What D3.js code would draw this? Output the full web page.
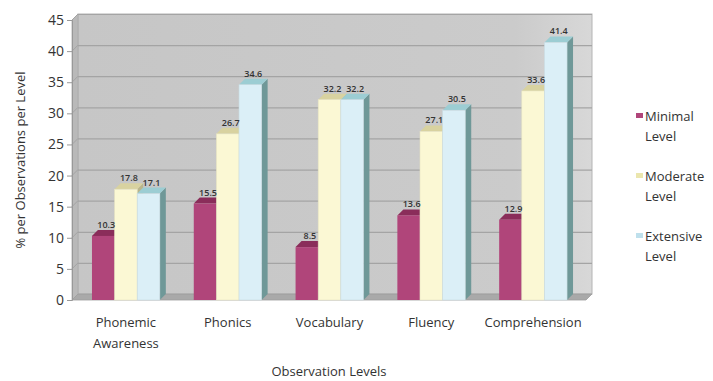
<!DOCTYPE html>
<html>
<head>
<meta charset="utf-8">
<script src="https://cdn.jsdelivr.net/npm/d3@7"></script>
<style>
  html, body { margin: 0; padding: 0; background: #fff; }
  svg { display: block; }
  text { font-family: "Open Sans", "Noto Sans", sans-serif; fill: #333; }
</style>
</head>
<body>
<svg id="chart" width="713" height="381"></svg>
<script>
// Reading-instruction observations by level
const categories = ["Phonemic Awareness", "Phonics", "Vocabulary", "Fluency", "Comprehension"];
const categoryLines = [["Phonemic", "Awareness"], ["Phonics"], ["Vocabulary"], ["Fluency"], ["Comprehension"]];
const seriesNames = ["Minimal Level", "Moderate Level", "Extensive Level"];
const minimal   = [10.3, 15.5, 8.5, 13.6, 12.9];
const moderate  = [17.8, 26.7, 32.2, 27.1, 33.6];
const extensive = [17.1, 34.6, 32.2, 30.5, 41.4];
const yTicks = [0, 5, 10, 15, 20, 25, 30, 35, 40, 45];
const yTitle = "% per Observations per Level";
const xTitle = "Observation Levels";

const seriesValues = [minimal, moderate, extensive];
const frontColors = ["#b0457a", "#fbf8d4", "#dbeff7"];
const topColors   = ["#8a2d5a", "#d8d2a0", "#9ccdd3"];
const sideColors  = ["#7a2a50", "#b9b58a", "#6f9898"];

const svg = d3.select("#chart");

// Front plane geometry and the depth offset of the 3D box
const plotLeft = 72, plotRight = 586, plotBase = 300, plotTop = 20;
const dx = 6, dy = -6;

const y = d3.scaleLinear().domain([0, 45]).range([plotBase, plotTop]);
const x0 = d3.scaleBand().domain(categories).range([75, 584])
  .paddingInner(1 / 3).paddingOuter(1 / 6);
const x1 = d3.scaleBand().domain(d3.range(3)).range([0, x0.bandwidth()]);

const defs = svg.append("defs");
const wallGrad = defs.append("linearGradient").attr("id", "wall")
  .attr("x1", 0).attr("y1", 0).attr("x2", 1).attr("y2", 0);
wallGrad.append("stop").attr("offset", 0).attr("stop-color", "#c6c6c6");
wallGrad.append("stop").attr("offset", 0.85).attr("stop-color", "#cbcbcb");
wallGrad.append("stop").attr("offset", 1).attr("stop-color", "#d8d8d8");

// Back wall
svg.append("rect")
  .attr("x", plotLeft + dx).attr("y", plotTop + dy)
  .attr("width", plotRight - plotLeft).attr("height", plotBase - plotTop)
  .attr("fill", "url(#wall)").attr("stroke", "#b4b4b4").attr("stroke-width", 1);

// Left side wall
svg.append("path")
  .attr("d", `M${plotLeft},${plotTop}L${plotLeft + dx},${plotTop + dy}L${plotLeft + dx},${plotBase + dy}L${plotLeft},${plotBase}Z`)
  .attr("fill", "#b9b9b9").attr("stroke", "#a9a9a9").attr("stroke-width", 0.8);

// Floor
svg.append("path")
  .attr("d", `M${plotLeft},${plotBase}L${plotLeft + dx},${plotBase + dy}L${plotRight + dx},${plotBase + dy}L${plotRight},${plotBase}Z`)
  .attr("fill", "#a9a9a9").attr("stroke", "#9d9d9d").attr("stroke-width", 0.8);

// Gridlines on the back wall and the side wall
const grid = svg.append("g");
yTicks.filter(t => t > 0).forEach(t => {
  const yy = y(t);
  grid.append("line")
    .attr("x1", plotLeft + dx).attr("x2", plotRight + dx)
    .attr("y1", yy + dy + 0.5).attr("y2", yy + dy + 0.5)
    .attr("stroke", "#a4a4a4").attr("stroke-width", 1.2);
  grid.append("line")
    .attr("x1", plotLeft).attr("x2", plotLeft + dx)
    .attr("y1", yy).attr("y2", yy + dy)
    .attr("stroke", "#a4a4a4").attr("stroke-width", 1);
});

// Y axis on the front-left edge
const yAxis = d3.axisLeft(y).tickValues(yTicks).tickSize(5).tickPadding(3).tickFormat(d3.format("d"));
const yg = svg.append("g").attr("transform", `translate(${plotLeft},0)`).call(yAxis);
yg.select(".domain").attr("stroke", "#999");
yg.selectAll(".tick line").attr("stroke", "#999");
yg.selectAll(".tick text").attr("font-size", 14).attr("fill", "#333")
  .style("font-family", '"Open Sans", sans-serif');

// Bars
const groups = svg.append("g").selectAll("g")
  .data(categories)
  .join("g")
  .attr("transform", d => `translate(${x0(d)},0)`);

groups.each(function (cat, ci) {
  const g = d3.select(this);
  seriesValues.forEach((vals, si) => {
    const v = vals[ci];
    const bx = x1(si), bw = x1.bandwidth();
    const by = y(v), bh = plotBase - by;
    // side face
    g.append("path")
      .attr("d", `M${bx + bw},${by}L${bx + bw + dx},${by + dy}L${bx + bw + dx},${plotBase + dy}L${bx + bw},${plotBase}Z`)
      .attr("fill", sideColors[si]);
    // top face
    g.append("path")
      .attr("d", `M${bx},${by}L${bx + dx},${by + dy}L${bx + bw + dx},${by + dy}L${bx + bw},${by}Z`)
      .attr("fill", topColors[si]);
    // front face
    g.append("rect")
      .attr("x", bx).attr("y", by).attr("width", bw).attr("height", bh)
      .attr("fill", frontColors[si])
      .attr("stroke", si === 0 ? "none" : d3.color(frontColors[si]).darker(0.25))
      .attr("stroke-width", 0.6);
  });
});

// Value labels above the bars
groups.each(function (cat, ci) {
  const g = d3.select(this);
  seriesValues.forEach((vals, si) => {
    const v = vals[ci];
    g.append("text")
      .attr("x", x1(si) + x1.bandwidth() / 2 + 3)
      .attr("y", y(v) + dy - 2)
      .attr("text-anchor", "middle")
      .attr("font-size", 9)
      .attr("font-weight", 600)
      .attr("fill", "#444")
      .text(d3.format(".1f")(v));
  });
});

// Category labels
categories.forEach((cat, i) => {
  const cx = x0(cat) + x0.bandwidth() / 2;
  const t = svg.append("text")
    .attr("x", cx).attr("y", 327)
    .attr("text-anchor", "middle").attr("font-size", 13);
  categoryLines[i].forEach((line, li) => {
    t.append("tspan").attr("x", cx).attr("dy", li === 0 ? 0 : 21).text(line);
  });
});

// Axis titles
svg.append("text")
  .attr("x", (plotLeft + plotRight) / 2).attr("y", 376)
  .attr("text-anchor", "middle").attr("font-size", 13)
  .text(xTitle);

svg.append("text")
  .attr("transform", `translate(25,${(plotTop + plotBase) / 2}) rotate(-90)`)
  .attr("text-anchor", "middle").attr("font-size", 13)
  .text(yTitle);

// Legend
const legendColors = ["#b0457a", "#ebe6ae", "#bfe0ec"];
const legend = svg.append("g");
seriesNames.forEach((name, i) => {
  const ly = 121 + i * 60;
  const words = name.split(" ");
  legend.append("rect")
    .attr("x", 636).attr("y", ly - 8).attr("width", 7).attr("height", 5)
    .attr("fill", legendColors[i]);
  const t = legend.append("text")
    .attr("x", 645).attr("y", ly).attr("font-size", 13);
  t.append("tspan").attr("x", 645).text(words[0]);
  t.append("tspan").attr("x", 645).attr("dy", 20).text(words[1]);
});
</script>
</body>
</html>
